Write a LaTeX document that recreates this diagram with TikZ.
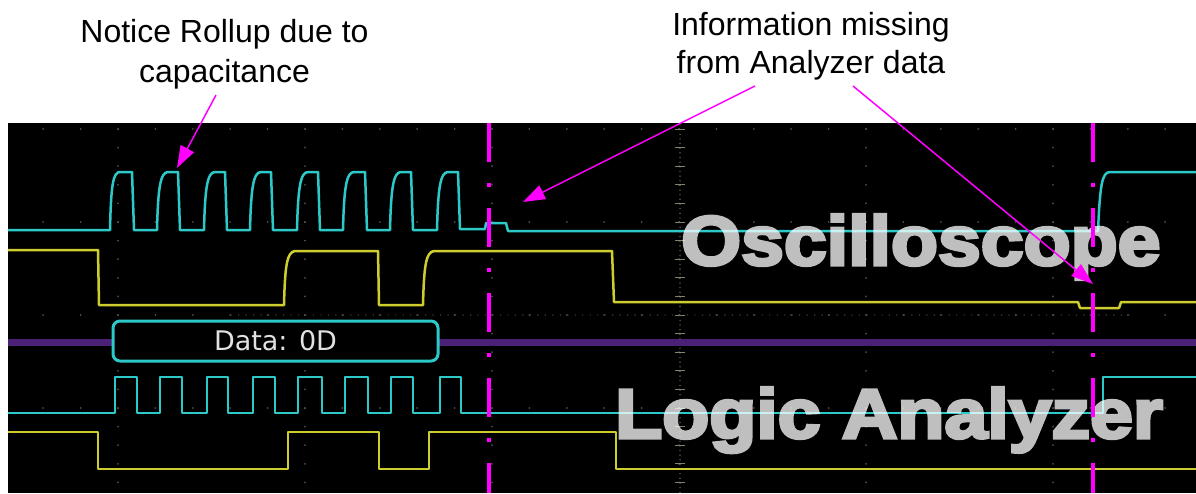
\documentclass[tikz,border=0pt]{standalone}
\usepackage{fontspec}
\setmainfont{Liberation Sans}
\newfontfamily\dejavu{DejaVu Sans}
\usetikzlibrary{arrows.meta}
\definecolor{scopecyan}{RGB}{45,200,200}
\definecolor{scopeyellow}{RGB}{205,205,45}
\definecolor{busviolet}{RGB}{75,33,120}
\definecolor{gridgray}{RGB}{80,80,80}
\definecolor{gridbright}{RGB}{130,130,110}
\definecolor{mag}{RGB}{255,0,255}
\newcommand{\heavytext}[1]{\special{pdf:literal direct 2 Tr 3 w}#1\special{pdf:literal direct 0 Tr 1 w}}
\begin{document}
\begin{tikzpicture}[x=1pt,y=-1pt,
  cyantrace/.style={scopecyan,line width=2.5pt,line join=round},
  yellowtrace/.style={scopeyellow,line width=2.5pt,line join=round},
  cursorline/.style={mag,line width=4pt,dash pattern=on 39pt off 21pt on 4pt off 21pt},
  callout/.style={mag,line width=1.5pt,-{Triangle[length=22pt,width=15pt]}},
  note/.style={font=\fontsize{32}{40}\selectfont,align=center,anchor=base,inner sep=0pt},
  watermark/.style={font=\fontsize{70}{70}\selectfont\bfseries,text=white,anchor=base west,inner sep=0pt},
  dot/.style={fill=gridgray}]
\useasboundingbox (0,0) rectangle (1196,493);
\fill[white] (0,0) rectangle (1196,493);
\fill[black] (8,123) rectangle (1196,493);
% graticule
\foreach \k in {-2,...,28} \foreach \yy in {129,222,315,408}
  \fill[dot] (118+37.4*\k,\yy) circle (1pt);
\foreach \c in {0,...,5} \foreach \j in {0,...,19}
  \fill[dot] (118+187*\c,129+18.6*\j) circle (1pt);
\foreach \j in {0,...,79}
  \fill[gridbright] (680,125+4.65*\j) circle (0.7pt);
\foreach \j in {0,...,19}
  \draw[gridbright,line width=0.8pt] (675,129+18.6*\j) -- (685,129+18.6*\j);
\foreach \k in {-60,...,60}
  \fill[gridgray] (680+7.48*\k,315) circle (0.7pt);
% oscilloscope clock (rollup)
\draw[cyantrace] (8,230) -- (110,230)
  .. controls (111,185) and (113,172) .. (120,172) -- (132,172) -- (134,230) -- (157,230)
  .. controls (158,190) and (160,172) .. (168,172) -- (178,172) -- (180,230) -- (204,230)
  .. controls (205,190) and (207,172) .. (215,172) -- (225,172) -- (227,230) -- (250,230)
  .. controls (251,190) and (253,172) .. (261,172) -- (271,172) -- (273,230) -- (297,230)
  .. controls (298,190) and (300,172) .. (308,172) -- (318,172) -- (320,230) -- (343,230)
  .. controls (344,190) and (346,172) .. (354,172) -- (365,172) -- (367,230) -- (390,230)
  .. controls (391,190) and (393,172) .. (401,172) -- (411,172) -- (413,230) -- (437,230)
  .. controls (438,190) and (440,172) .. (448,172) -- (458,172) -- (460,229) -- (485,229)
  -- (486,223) -- (506,223) -- (508,231) -- (1098,231)
  .. controls (1100,185) and (1102,172) .. (1110,172) -- (1196,172);
% oscilloscope data
\draw[yellowtrace] (8,250) -- (98,250) -- (99,305) -- (284,305)
  .. controls (285,265) and (287,252) .. (295,251) -- (378,251) -- (379,305) -- (423,305)
  .. controls (424,265) and (426,252) .. (434,251) -- (612,251) -- (614,302) -- (1078,302)
  -- (1080,308) -- (1119,308) -- (1121,302) -- (1196,302);
% bus
\draw[busviolet,line width=7pt] (8,342) -- (113,342);
\draw[busviolet,line width=7pt] (438,342) -- (1196,342);
\node[draw=scopecyan,line width=3pt,fill=black,rounded corners=7pt,
  minimum width=325pt,minimum height=40pt,inner sep=0pt,
  font=\dejavu\fontsize{27}{27}\selectfont,text={rgb,255:red,225;green,225;blue,225}]
  (databox) at (275.5,341) {Data: 0D};
% logic analyzer clock
\draw[cyantrace] (8,413) -- (115,413) -- (115,377) -- (137,377) -- (137,413)
  -- (160,413) -- (160,377) -- (182,377) -- (182,413)
  -- (207,413) -- (207,377) -- (228,377) -- (228,413)
  -- (253,413) -- (253,377) -- (275,377) -- (275,413)
  -- (298,413) -- (298,377) -- (322,377) -- (322,413)
  -- (345,413) -- (345,377) -- (368,377) -- (368,413)
  -- (391,413) -- (391,377) -- (413,377) -- (413,413)
  -- (440,413) -- (440,377) -- (461,377) -- (461,413)
  -- (1103,413) -- (1103,377) -- (1196,377);
% logic analyzer data
\draw[yellowtrace] (8,432) -- (98,432) -- (98,469) -- (288,469) -- (288,432) -- (379,432)
  -- (379,469) -- (429,469) -- (429,432) -- (616,432) -- (616,469) -- (1196,469);
% watermarks (heavy halftone lettering)
\begin{scope}[transparency group,opacity=0.75]
  \node[watermark] (scopelabel) at (681,265) {\scalebox{1.1}[1]{\heavytext{Oscilloscope}}};
  \node[watermark] (analyzerlabel) at (615,438) {\scalebox{1.1}[1]{\heavytext{Logic Analyzer}}};
\end{scope}
% cursors
\coordinate (cursorAtop) at (489,123);
\coordinate (cursorAbot) at (489,493);
\coordinate (cursorBtop) at (1093,123);
\coordinate (cursorBbot) at (1093,493);
\draw[cursorline] (cursorAtop) -- (cursorAbot);
\draw[cursorline] (cursorBtop) -- (cursorBbot);
% annotations
\node[note] (rollupnote) at (224.5,82) {Notice Rollup due to\\capacitance};
\node[note,font=\fontsize{32}{38}\selectfont] (missingnote) at (811,73) {Information missing\\from Analyzer data};
\coordinate (rollupstart) at (216,95);
\coordinate (rolluptip) at (177,168);
\coordinate (missAstart) at (755,86);
\coordinate (missAtip) at (523,202);
\coordinate (missBstart) at (853,86);
\coordinate (missBtip) at (1093,284);
\draw[callout] (rollupstart) -- (rolluptip);
\draw[callout] (missAstart) -- (missAtip);
\draw[callout] (missBstart) -- (missBtip);
\end{tikzpicture}
\end{document}
